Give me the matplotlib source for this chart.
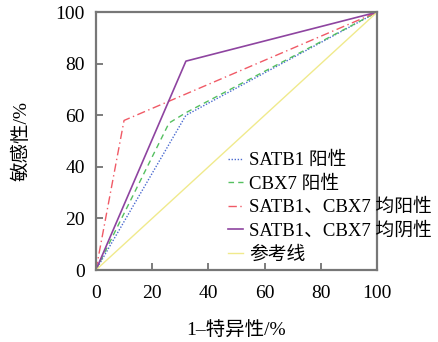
import matplotlib.pyplot as plt

plt.rcParams['font.family'] = ['Liberation Serif', 'Noto Sans CJK SC']
plt.rcParams['mathtext.fontset'] = 'stix'

# ROC curve points (1-specificity %, sensitivity %)
satb1_x = [0, 32, 100]
satb1_y = [0, 60, 100]
cbx7_x = [0, 26, 32, 100]
cbx7_y = [0, 57, 61, 100]
both_pos_x = [0, 10, 100]
both_pos_y = [0, 58, 100]
both_neg_x = [0, 32, 100]
both_neg_y = [0, 81, 100]
ref_x = [0, 100]
ref_y = [0, 100]

labels = ['SATB1 阳性', 'CBX7 阳性', 'SATB1、CBX7 均阳性',
          'SATB1、CBX7 均阴性', '参考线']
ticks = [0, 20, 40, 60, 80, 100]

fig = plt.figure(figsize=(4.38, 3.42), dpi=100)
ax = fig.add_axes([0.219, 0.2105, 0.642, 0.754])

ax.plot(satb1_x, satb1_y, color='#4a6ad0', lw=1.0, ls=(0, (1, 1.2)), label=labels[0])
ax.plot(cbx7_x, cbx7_y, color='#55c060', lw=1.0, ls=(0, (4, 3)), label=labels[1])
ax.plot(both_pos_x, both_pos_y, color='#f05a66', lw=1.0, ls=(0, (6, 2.5, 1, 2.5)), label=labels[2])
ax.plot(both_neg_x, both_neg_y, color='#8e44a0', lw=1.2, label=labels[3])
ax.plot(ref_x, ref_y, color='#f0ea8c', lw=1.0, label=labels[4])

ax.set_xlim(0, 100)
ax.set_ylim(0, 100)
ax.set_xticks(ticks)
ax.set_yticks(ticks)
ax.tick_params(direction='in', length=5, width=1.2, color='#666666',
               labelsize=14)
ax.tick_params(axis='x', pad=11)
ax.tick_params(axis='y', pad=8)
for s in ax.spines.values():
    s.set_color('#777777')
    s.set_linewidth(1.6)

ax.set_xlabel('1–特异性/%', fontsize=14, labelpad=14)
ax.set_ylabel('敏感性/%', fontsize=14, labelpad=18)

fig.legend(loc='upper left', bbox_to_anchor=(0.521, 0.556), frameon=False,
           fontsize=13.5, handlelength=0.8, handletextpad=0.3,
           labelspacing=0.33, borderaxespad=0, borderpad=0)

fig.savefig('out.png', dpi=100)
